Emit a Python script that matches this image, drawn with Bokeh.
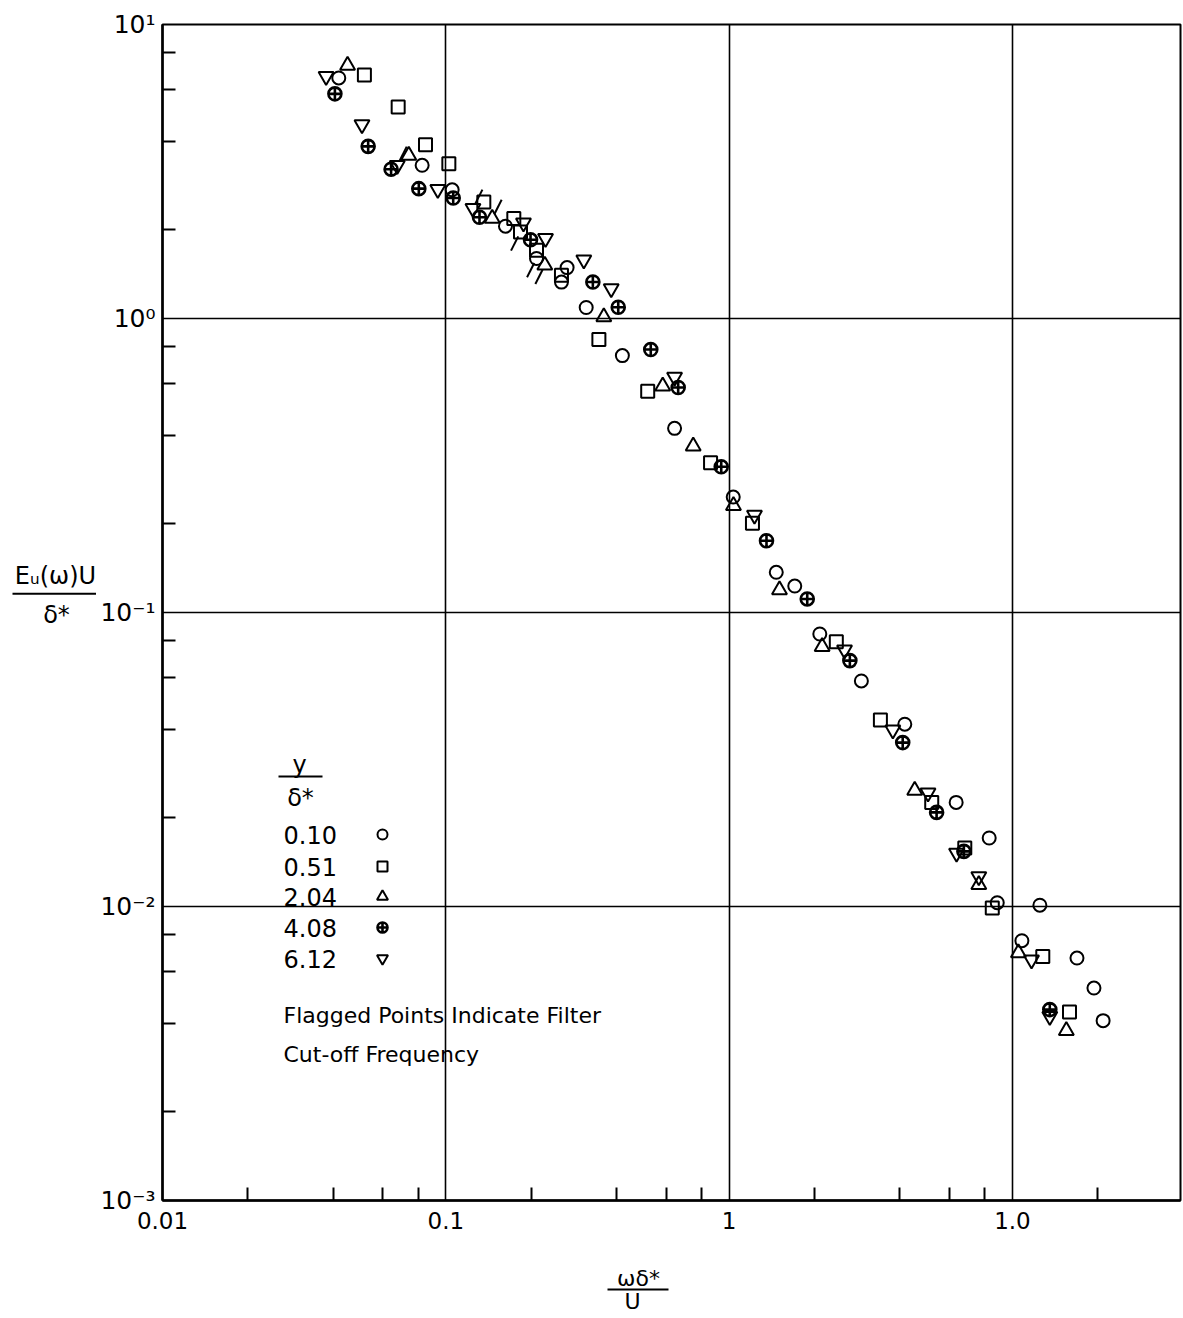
import numpy as np
from bokeh.plotting import figure
from bokeh.layouts import row, column
from bokeh.models import Range1d, FixedTicker, CustomJSTickFormatter, Label
from bokeh.core.properties import value
from bokeh.embed import file_html
from bokeh.resources import INLINE

# ---------------- data ----------------
series_labels = ["0.10", "0.51", "2.04", "4.08", "6.12"]
x_tick_labels = ["0.01", "0.1", "1", "1.0"]
y_tick_labels = ["10\u207b\u00b3", "10\u207b\u00b2", "10\u207b\u00b9", "10\u2070", "10\u00b9"]

circ_x = [0.0419, 0.0825, 0.1053, 0.1624, 0.209, 0.268, 0.256, 0.313, 0.420, 0.642,
          1.034, 1.467, 1.705, 2.09, 2.93, 4.17, 6.33, 8.28, 8.84, 12.5, 10.8, 16.9, 19.4, 20.9]
circ_y = [6.58, 3.32, 2.74, 2.06, 1.60, 1.49, 1.33, 1.09, 0.748, 0.423,
          0.247, 0.137, 0.123, 0.0845, 0.0585, 0.0417, 0.0226, 0.0171, 0.0103, 0.0101,
          0.00765, 0.00668, 0.00528, 0.00409]

sq_x = [0.0516, 0.0679, 0.0848, 0.1025, 0.1362, 0.1738, 0.1835, 0.209, 0.256, 0.347,
        0.516, 0.860, 1.209, 2.39, 3.42, 5.19, 6.79, 8.49, 12.8, 15.9]
sq_y = [6.73, 5.24, 3.90, 3.36, 2.49, 2.19, 1.97, 1.706, 1.403, 0.848,
        0.566, 0.323, 0.201, 0.0796, 0.0431, 0.0226, 0.0158, 0.00988, 0.00676, 0.00438]

tri_x = [0.045, 0.074, 0.1458, 0.2236, 0.3612, 0.583, 0.747, 1.036, 1.506, 2.13,
         4.52, 7.61, 10.5, 15.5]
tri_y = [7.26, 3.59, 2.19, 1.517, 1.012, 0.589, 0.368, 0.231, 0.1193, 0.0765,
         0.0248, 0.01186, 0.00695, 0.00378]

cross_x = [0.0406, 0.0532, 0.0641, 0.0803, 0.1062, 0.1315, 0.1991, 0.3304, 0.4061, 0.529,
           0.661, 0.938, 1.355, 1.887, 2.668, 4.10, 5.40, 6.74, 13.55]
cross_y = [5.81, 3.85, 3.22, 2.765, 2.57, 2.21, 1.852, 1.331, 1.092, 0.784,
           0.5825, 0.313, 0.1754, 0.1112, 0.0686, 0.0361, 0.0209, 0.0154, 0.00446]

inv_x = [0.0378, 0.0506, 0.0674, 0.0937, 0.1247, 0.188, 0.2249, 0.307, 0.3836, 0.642,
         1.229, 2.555, 3.784, 5.036, 6.35, 7.61, 11.68, 13.55]
inv_y = [6.66, 4.57, 3.32, 2.75, 2.37, 2.116, 1.874, 1.584, 1.264, 0.6315,
         0.2145, 0.0746, 0.0399, 0.02435, 0.0152, 0.01265, 0.00659, 0.00423]

# flagged points (filter cut-off): (series, index, direction +1 up-right / -1 down-left)
flags = [("inv", 2, 1), ("inv", 4, 1), ("tri", 2, 1), ("sq", 6, -1), ("tri", 3, -1), ("circ", 4, -1)]

series = {
    "circ": (circ_x, circ_y, "circle", 13, 2.0),
    "sq": (sq_x, sq_y, "square", 13, 2.0),
    "tri": (tri_x, tri_y, "triangle", 15, 2.0),
    "cross": (cross_x, cross_y, "circle_cross", 13, 2.6),
    "inv": (inv_x, inv_y, "inverted_triangle", 15, 2.0),
}
order = ["circ", "sq", "tri", "cross", "inv"]

# ---------------- layout ----------------
W, H = 1183, 1318
STRIP_W = 96            # left strip holding the y title
MAIN_H = 1250           # main plot height; bottom strip holds the x title
LEFT, RIGHT, TOP, BOTTOM = 162, 1180, 24, 1200   # frame edges in page pixels
XMIN, XMAX, YMIN, YMAX = 0.01, 39.2, 0.001, 10.0
XPX = (RIGHT - LEFT) / np.log10(XMAX / XMIN)
YPX = (BOTTOM - TOP) / np.log10(YMAX / YMIN)
FONT = "DejaVu Sans"


def dx(px):
    return 10 ** (np.log10(XMIN) + (px - LEFT) / XPX)


def dy(py):
    return 10 ** (np.log10(YMAX) - (py - TOP) / YPX)


p = figure(width=W - STRIP_W, height=MAIN_H, x_axis_type="log", y_axis_type="log",
           x_range=Range1d(XMIN, XMAX), y_range=Range1d(YMIN, YMAX),
           output_backend="svg", toolbar_location=None,
           min_border_left=LEFT - STRIP_W, min_border_right=W - RIGHT,
           min_border_top=TOP, min_border_bottom=MAIN_H - BOTTOM)
p.background_fill_color = "white"
p.border_fill_color = "white"
p.outline_line_color = "black"
p.outline_line_width = 2

xdec = [0.01, 0.1, 1, 10]
ydec = [0.001, 0.01, 0.1, 1, 10]
xminor = [m * d for d in xdec for m in (2, 4, 6, 8)]
yminor = [m * d for d in ydec for m in (2, 4, 6, 8)]

p.xaxis.ticker = FixedTicker(ticks=xdec, minor_ticks=xminor)
p.yaxis.ticker = FixedTicker(ticks=ydec, minor_ticks=yminor)
p.xaxis.formatter = CustomJSTickFormatter(args=dict(labels=x_tick_labels),
                                          code="return labels[Math.round(Math.log10(tick)) + 2];")
p.yaxis.formatter = CustomJSTickFormatter(args=dict(labels=y_tick_labels),
                                          code="return labels[Math.round(Math.log10(tick)) + 3];")
for ax in (p.xaxis, p.yaxis):
    ax.axis_line_color = "black"
    ax.axis_line_width = 2.5
    ax.major_tick_in = 0
    ax.major_tick_out = 0
    ax.minor_tick_in = 13
    ax.minor_tick_out = 0
    ax.minor_tick_line_color = "black"
    ax.minor_tick_line_width = 2
    ax.major_label_text_font = FONT
    ax.major_label_text_color = "black"
p.xaxis.major_label_text_font_size = "23px"
p.xaxis.major_label_standoff = 11
p.yaxis.major_label_text_font_size = "25px"
p.yaxis.major_label_standoff = 7

p.xgrid.ticker = FixedTicker(ticks=[0.1, 1, 10])
p.ygrid.ticker = FixedTicker(ticks=[0.01, 0.1, 1])
for g in (p.xgrid, p.ygrid):
    g.grid_line_color = "black"
    g.grid_line_width = 1.6
    g.grid_line_alpha = 1.0

# ---------------- data markers ----------------
for key in order:
    xs, ys, mk, sz, lw = series[key]
    p.scatter(x=xs, y=ys, marker=mk, size=sz, line_color="black",
              line_width=lw, fill_color=None)

# flag strokes attached to flagged points
fx0, fy0, fx1, fy1 = [], [], [], []
ux, uy = 0.45, 0.89
for key, i, sgn in flags:
    xs, ys = series[key][0], series[key][1]
    x, y = xs[i], ys[i]
    for d, (ax_, ay_) in ((5, (fx0, fy0)), (21, (fx1, fy1))):
        ax_.append(x * 10 ** (sgn * d * ux / XPX))
        ay_.append(y * 10 ** (sgn * d * uy / YPX))
p.segment(x0=fx0, y0=fy0, x1=fx1, y1=fy1, line_color="black", line_width=2)

# ---------------- legend (drawn manually) ----------------
leg_rows = [834, 866, 896, 927, 958]
for key, lab, py in zip(order, series_labels, leg_rows):
    p.add_layout(Label(x=dx(283), y=dy(py), text=lab, text_font=FONT, text_font_size="24px",
                       text_align="left", text_baseline="middle", text_color="black"))
    mk, lw = series[key][2], series[key][4]
    p.scatter(x=[dx(382)], y=[dy(py)], marker=mk, size=11 if key in ("tri", "inv") else 10,
              line_color="black", line_width=lw, fill_color=None)

p.add_layout(Label(x=dx(299), y=dy(764), text="y", text_font=FONT, text_font_size="24px",
                   text_align="center", text_baseline="middle", text_color="black"))
p.segment(x0=[dx(278)], y0=[dy(776)], x1=[dx(322)], y1=[dy(776)], line_color="black", line_width=2)
p.add_layout(Label(x=dx(300), y=dy(797), text="\u03b4*", text_font=FONT, text_font_size="24px",
                   text_align="center", text_baseline="middle", text_color="black"))

p.add_layout(Label(x=dx(283), y=dy(1015), text="Flagged Points Indicate Filter", text_font=FONT,
                   text_font_size="22px", text_align="left", text_baseline="middle", text_color="black"))
p.add_layout(Label(x=dx(283), y=dy(1054), text="Cut-off Frequency", text_font=FONT,
                   text_font_size="22px", text_align="left", text_baseline="middle", text_color="black"))


# ---------------- axis titles (fractions) in side strips ----------------
def strip(w, h, xr, yr):
    f = figure(width=w, height=h, x_range=Range1d(*xr), y_range=Range1d(*yr),
               output_backend="svg", toolbar_location=None, min_border=0,
               x_axis_location=None, y_axis_location=None)
    f.outline_line_color = None
    f.background_fill_color = "white"
    f.border_fill_color = "white"
    f.xgrid.grid_line_color = None
    f.ygrid.grid_line_color = None
    f.xgrid.visible = False
    f.ygrid.visible = False
    return f


ls = strip(STRIP_W, MAIN_H, (0, STRIP_W), (MAIN_H, 0))
ls.text(x=[55, 56], y=[586, 628], text=["E\u1d64(\u03c9)U", "\u03b4*"],
        text_font=value(FONT), text_font_size=value("24px"), text_align="center",
        text_baseline="middle", text_color="black")
ls.segment(x0=[12], y0=[605], x1=[96], y1=[605], line_color="black", line_width=2)

bs = strip(W, H - MAIN_H, (0, W), (H, MAIN_H))
bs.text(x=[638, 632], y=[1278, 1301], text=["\u03c9\u03b4*", "U"],
        text_font=value(FONT), text_font_size=value("22px"), text_align="center",
        text_baseline="middle", text_color="black")
bs.segment(x0=[607], y0=[1289], x1=[668], y1=[1289], line_color="black", line_width=2)

layout = column(row(ls, p, spacing=0), bs, spacing=0)
open("out.html", "w").write(file_html(layout, INLINE))
